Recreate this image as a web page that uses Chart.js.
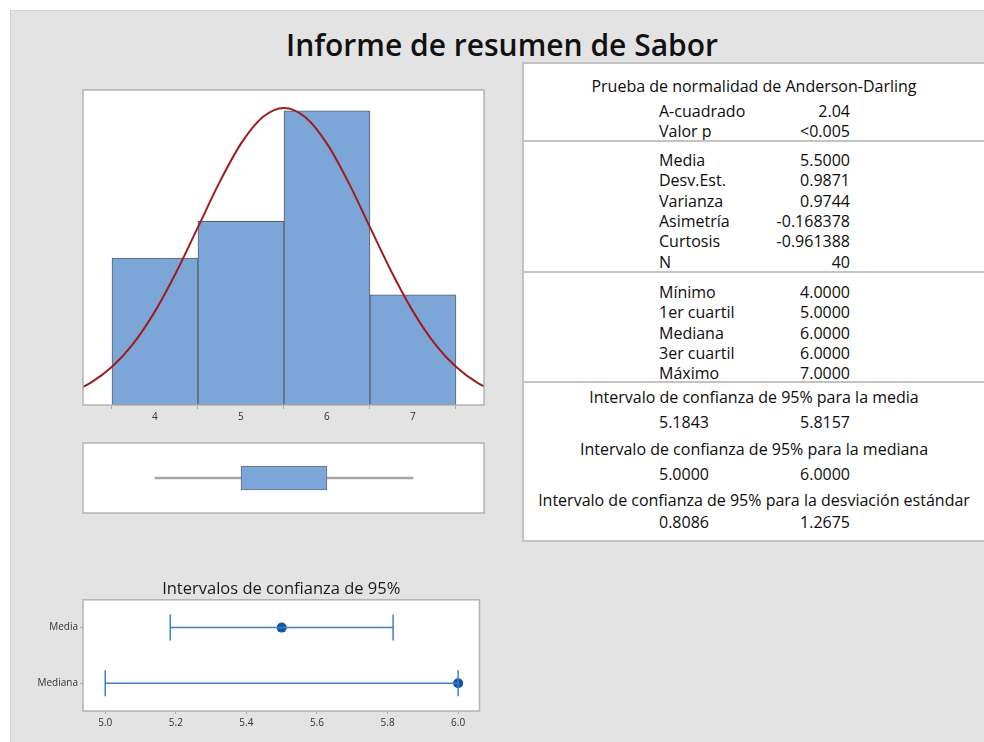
<!DOCTYPE html>
<html>
<head>
<meta charset="utf-8">
<script src="https://cdn.jsdelivr.net/npm/chart.js@4.4.1/dist/chart.umd.min.js"></script>
<style>
  html, body { margin: 0; padding: 0; background: #fff; width: 984px; height: 742px; overflow: hidden; }
  body { position: relative; font-family: "Open Sans", sans-serif; color: #111; }
  #bg { position: absolute; left: 10px; top: 10px; width: 974px; height: 731px; background: #e3e3e3;
        border-left: 1px solid #d2d2d2; border-top: 1px solid #d2d2d2; }
  #title { position: absolute; left: 0; width: 1004px; top: 25px; text-align: center;
           font-size: 30px; font-weight: 600; line-height: 40px; color: #111; }
  canvas { position: absolute; }
  #panel { position: absolute; left: 522px; top: 62px; width: 480px; height: 476px; background: #fff;
           border: 2px solid #c3c3c3; border-right: none; }
  .sep { position: absolute; left: 0; width: 480px; height: 2px; background: #c3c3c3; }
  .row { position: absolute; height: 20px; line-height: 20px; font-size: 16px; white-space: nowrap; color: #0d0d0d; }
  .lab { position: absolute; left: 135px; }
  .val { position: absolute; right: 0; text-align: right; }
  .ctr { position: absolute; left: 0; width: 460px; text-align: center; }
</style>
</head>
<body>
<div id="bg"></div>
<div id="title">Informe de resumen de Sabor</div>
<canvas id="hist" width="421" height="340" style="left:73px; top:85px;"></canvas>
<canvas id="box" width="421" height="80" style="left:73px; top:438px;"></canvas>
<canvas id="ci" width="474" height="157" style="left:20px; top:579px;"></canvas>
<div id="panel"></div>
<script>
// --- Data ---
const binMid = [4, 5, 6, 7];
const binCount = [8, 10, 16, 6];
const histTicks = [4, 5, 6, 7];

// fitted normal curve (mean 5.5, sd 0.9871, N 40)
const curveX = [3.0, 3.25, 3.5, 3.75, 4.0, 4.25, 4.5, 4.75, 5.0, 5.25, 5.5,
                5.75, 6.0, 6.25, 6.5, 6.75, 7.0, 7.25, 7.5, 7.75, 8.0];
const curveY = [0.654, 1.203, 2.076, 3.358, 5.095, 7.251, 9.677, 12.113, 14.220, 15.656, 16.166,
                15.656, 14.220, 12.113, 9.677, 7.251, 5.095, 3.358, 2.076, 1.203, 0.654];

const boxStats = [4, 5, 6, 6, 7]; // min, q1, median, q3, max

const ciLabels = ['Media', 'Mediana'];
const ciLow = [5.1843, 5.0];
const ciHigh = [5.8157, 6.0];
const ciEst = [5.5, 6.0];
const ciTicks = [5.0, 5.2, 5.4, 5.6, 5.8, 6.0];

const adTitle = 'Prueba de normalidad de Anderson-Darling';
const adLabels = ['A-cuadrado', 'Valor p'];
const adValues = ['2.04', '<0.005'];
const momentLabels = ['Media', 'Desv.Est.', 'Varianza', 'Asimetría', 'Curtosis', 'N'];
const momentValues = ['5.5000', '0.9871', '0.9744', '-0.168378', '-0.961388', '40'];
const quantLabels = ['Mínimo', '1er cuartil', 'Mediana', '3er cuartil', 'Máximo'];
const quantValues = ['4.0000', '5.0000', '6.0000', '6.0000', '7.0000'];
const ciTitles = ['Intervalo de confianza de 95% para la media',
                  'Intervalo de confianza de 95% para la mediana',
                  'Intervalo de confianza de 95% para la desviación estándar'];
const ciTabLow = ['5.1843', '5.0000', '0.8086'];
const ciTabHigh = ['5.8157', '6.0000', '1.2675'];

// --- Shared look ---
Chart.defaults.font.family = '"Open Sans", sans-serif';
Chart.defaults.color = '#333';
const BLUE = '#7ca6d8';
const XMIN = 3.163, XMAX = 7.826;

// white plot area + gray frame
const frame = {
  id: 'frame',
  beforeDraw(chart) {
    const a = chart.chartArea, c = chart.ctx;
    c.save(); c.fillStyle = '#fff'; c.fillRect(a.left, a.top, a.right - a.left, a.bottom - a.top); c.restore();
  },
  afterDraw(chart) {
    const a = chart.chartArea, c = chart.ctx;
    c.save(); c.strokeStyle = '#b3b3b3'; c.lineWidth = 1.5;
    c.strokeRect(a.left, a.top, a.right - a.left, a.bottom - a.top); c.restore();
  }
};

// --- Histogram with normal fit ---
new Chart(document.getElementById('hist'), {
  type: 'bar',
  data: {
    datasets: [
      {
        type: 'line',
        data: curveX.map((x, i) => ({ x: x, y: curveY[i] })),
        borderColor: '#a01c1c', borderWidth: 2, pointRadius: 0,
        cubicInterpolationMode: 'monotone', order: 0
      },
      {
        type: 'bar',
        data: binMid.map((x, i) => ({ x: x, y: binCount[i] })),
        backgroundColor: BLUE, borderColor: '#56606a', borderWidth: 1,
        borderSkipped: false, barPercentage: 1, categoryPercentage: 1, order: 1
      }
    ]
  },
  options: {
    animation: false, responsive: false,
    layout: { padding: { left: 10, right: 10, top: 5, bottom: 0 } },
    plugins: { legend: { display: false }, tooltip: { enabled: false } },
    scales: {
      x: {
        type: 'linear', min: XMIN, max: XMAX, offset: false,
        afterBuildTicks: s => { s.ticks = histTicks.map(v => ({ value: v })); },
        afterFit: s => { s.height = 20; },
        grid: { drawOnChartArea: false, tickLength: 4, color: '#a8a8a8' },
        border: { display: false },
        ticks: { font: { size: 10 }, padding: 2, maxRotation: 0 }
      },
      y: { display: false, min: 0, max: 17.14 }
    }
  },
  plugins: [frame]
});

// --- Boxplot ---
new Chart(document.getElementById('box'), {
  type: 'bar',
  data: {
    labels: ['Sabor'],
    datasets: [
      { data: [[boxStats[1], boxStats[3]]], backgroundColor: BLUE, borderColor: '#66707a',
        borderWidth: 1, borderSkipped: false, barThickness: 24, grouped: false, order: 1 },
      { data: [[boxStats[0], boxStats[4]]], backgroundColor: '#a6a6a6', borderWidth: 0,
        barThickness: 2, grouped: false, order: 2 }
    ]
  },
  options: {
    indexAxis: 'y', animation: false, responsive: false,
    layout: { padding: { left: 10, right: 10, top: 5, bottom: 5 } },
    plugins: { legend: { display: false }, tooltip: { enabled: false } },
    scales: {
      x: { type: 'linear', min: XMIN, max: XMAX, display: false },
      y: { display: false }
    }
  },
  plugins: [frame]
});

// --- Confidence intervals ---
const ciSets = [];
ciLabels.forEach((lab, i) => {
  ciSets.push({
    data: [{ x: ciLow[i], y: lab }, { x: ciHigh[i], y: lab }],
    showLine: true, borderColor: '#3f7fc6', borderWidth: 1.5,
    pointStyle: 'line', rotation: 90, pointRadius: 13,
    pointBorderColor: '#3f7fc6', pointBorderWidth: 1.5
  });
});
ciSets.push({
  data: ciLabels.map((lab, i) => ({ x: ciEst[i], y: lab })),
  pointStyle: 'circle', pointRadius: 5, backgroundColor: '#0b57a6',
  pointBackgroundColor: '#0b57a6', pointBorderWidth: 0
});

new Chart(document.getElementById('ci'), {
  type: 'scatter',
  data: { datasets: ciSets },
  options: {
    animation: false, responsive: false,
    layout: { padding: { left: 0, right: 10, top: 0, bottom: 0 } },
    plugins: {
      legend: { display: false }, tooltip: { enabled: false },
      title: { display: true, text: 'Intervalos de confianza de 95%', fullSize: false,
               font: { size: 16.5, weight: 'normal' }, color: '#1a1a1a', padding: { top: 0, bottom: 1 } }
    },
    scales: {
      x: {
        type: 'linear', min: 4.937, max: 6.0605,
        afterBuildTicks: s => { s.ticks = ciTicks.map(v => ({ value: v })); },
        afterFit: s => { s.height = 25; },
        grid: { drawOnChartArea: false, tickLength: 3, color: '#a8a8a8' },
        border: { display: false },
        ticks: { font: { size: 10 }, padding: 3, callback: v => v.toFixed(1) }
      },
      y: {
        type: 'category', labels: ciLabels, offset: true,
        afterFit: s => { s.width = 63; },
        grid: { drawOnChartArea: false, tickLength: 3, color: '#a8a8a8', offset: false },
        border: { display: false },
        ticks: { font: { size: 10 }, padding: 2 }
      }
    }
  },
  plugins: [frame]
});

// --- Statistics table ---
const panel = document.getElementById('panel');
const PX = 524; // panel content left in page coords
const PY = 64;

function addRow(cy, label, value) {
  const r = document.createElement('div');
  r.className = 'row';
  r.style.top = (cy - 10 - PY) + 'px';
  r.style.left = '0px';
  r.style.width = (850 - PX) + 'px';
  r.innerHTML = '<span class="lab"></span><span class="val"></span>';
  r.children[0].textContent = label;
  r.children[1].textContent = value;
  panel.appendChild(r);
}
function addCenter(cy, text) {
  const r = document.createElement('div');
  r.className = 'row';
  r.style.top = (cy - 10 - PY) + 'px';
  r.innerHTML = '<span class="ctr"></span>';
  r.children[0].textContent = text;
  panel.appendChild(r);
}
function addSep(y) {
  const s = document.createElement('div');
  s.className = 'sep';
  s.style.top = (y - PY) + 'px';
  panel.appendChild(s);
}

const STEP = 20.3;
addCenter(86, adTitle);
adLabels.forEach((l, i) => addRow(111 + i * 19.5, l, adValues[i]));
addSep(140);
momentLabels.forEach((l, i) => addRow(160 + i * STEP, l, momentValues[i]));
addSep(271);
quantLabels.forEach((l, i) => addRow(292 + i * STEP, l, quantValues[i]));
addSep(381);
const ciTitleY = [397, 449, 500];
const ciValY = [422, 474, 522];
ciTitles.forEach((t, i) => {
  addCenter(ciTitleY[i], t);
  addRow(ciValY[i], ciTabLow[i], ciTabHigh[i]);
});
</script>
</body>
</html>
